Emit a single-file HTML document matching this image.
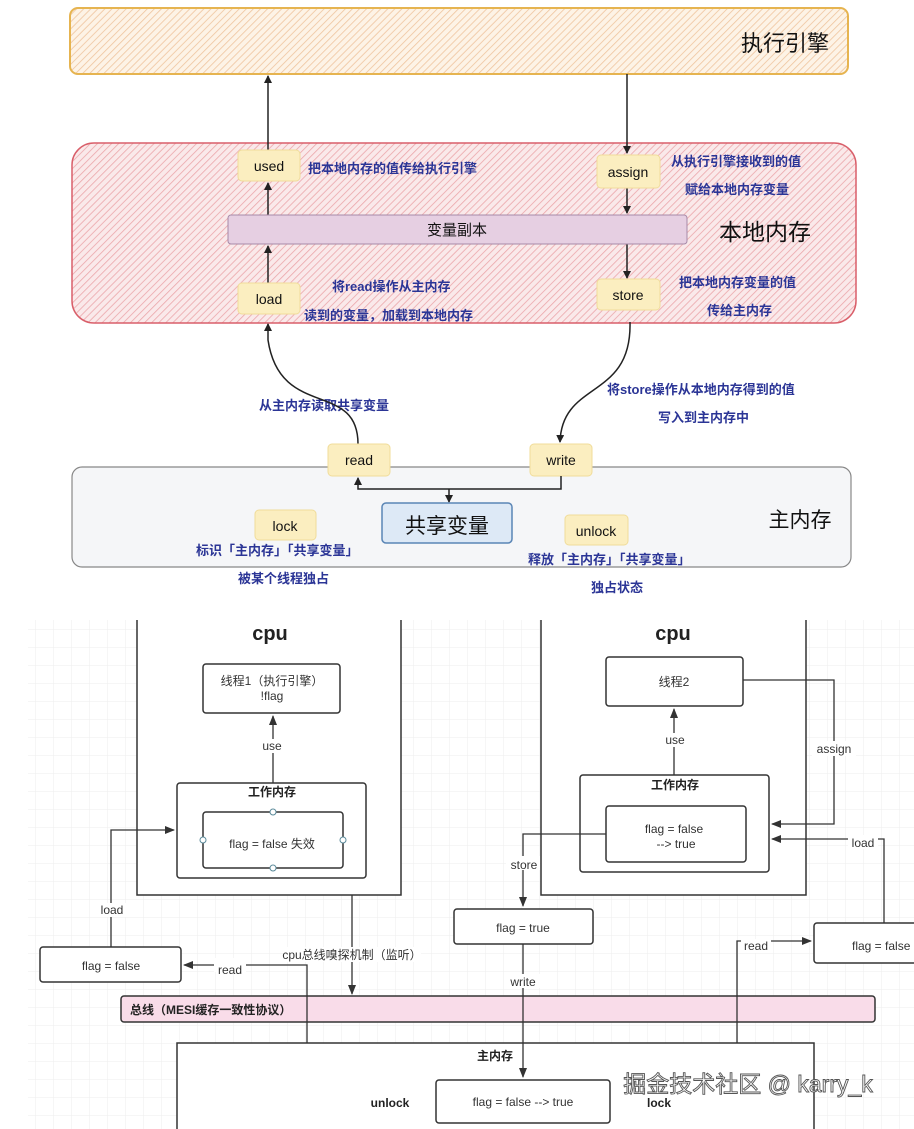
<!DOCTYPE html>
<html><head><meta charset="utf-8"><style>
html,body{margin:0;padding:0;background:#fff}
svg{display:block;font-family:"Liberation Sans","Noto Sans CJK SC",sans-serif}
.b{fill:#2b3596;font-size:13px;font-weight:bold}
</style></head><body>
<svg width="914" height="1129" viewBox="0 0 914 1129" xmlns="http://www.w3.org/2000/svg">
<defs>
<pattern id="h1" width="5" height="5" patternUnits="userSpaceOnUse" patternTransform="rotate(45)"><rect width="5" height="5" fill="#fdf3e6"/><line x1="0" y1="0" x2="0" y2="5" stroke="#efc49e" stroke-width="1.6"/></pattern>
<pattern id="h2" width="5" height="5" patternUnits="userSpaceOnUse" patternTransform="rotate(45)"><rect width="5" height="5" fill="#fae9ea"/><line x1="0" y1="0" x2="0" y2="5" stroke="#eba6aa" stroke-width="1.6"/></pattern>
<pattern id="g" width="18" height="18" patternUnits="userSpaceOnUse"><rect width="18" height="18" fill="#fff"/><path d="M18 0V18H0" fill="none" stroke="#eeeeee" stroke-width="1"/></pattern>
<marker id="a" markerWidth="8" markerHeight="8" refX="7" refY="4" orient="auto" markerUnits="userSpaceOnUse"><path d="M0,0L8,4L0,8z" fill="#222"/></marker>
<marker id="s" markerWidth="10" markerHeight="10" refX="9" refY="5" orient="auto" markerUnits="userSpaceOnUse"><path d="M0,1L10,5L0,9z" fill="#333"/></marker>
</defs>
<rect x="70" y="8" width="778" height="66" rx="8" fill="url(#h1)" stroke="#e6b450" stroke-width="2"/>
<text x="785" y="51" font-size="22" text-anchor="middle" fill="#111">执行引擎</text>
<rect x="72" y="143" width="784" height="180" rx="22" fill="url(#h2)" stroke="#d95f6a" stroke-width="1.5"/>
<line x1="268" y1="283" x2="268" y2="246" stroke="#222" stroke-width="1.5" marker-end="url(#a)"/>
<line x1="268" y1="215" x2="268" y2="183" stroke="#222" stroke-width="1.5" marker-end="url(#a)"/>
<line x1="268" y1="150" x2="268" y2="76" stroke="#222" stroke-width="1.5" marker-end="url(#a)"/>
<line x1="627" y1="74" x2="627" y2="153" stroke="#222" stroke-width="1.5" marker-end="url(#a)"/>
<line x1="627" y1="188" x2="627" y2="213" stroke="#222" stroke-width="1.5" marker-end="url(#a)"/>
<line x1="627" y1="244" x2="627" y2="278" stroke="#222" stroke-width="1.5" marker-end="url(#a)"/>
<rect x="228" y="215" width="459" height="29" rx="3" fill="#e6cfe2" stroke="#a78aa8"/>
<text x="457" y="235" font-size="15" text-anchor="middle" fill="#111">变量副本</text>
<text x="765" y="240" font-size="23" text-anchor="middle" fill="#111">本地内存</text>
<g fill="#fbeec0" stroke="#f0dc9a"><rect x="238" y="150" width="62" height="31" rx="4"/><rect x="597" y="155" width="63" height="33" rx="4"/><rect x="238" y="283" width="62" height="31" rx="4"/><rect x="597" y="279" width="63" height="31" rx="4"/><rect x="255" y="510" width="61" height="30" rx="4"/><rect x="565" y="515" width="63" height="30" rx="4"/></g>
<g font-size="14" text-anchor="middle" fill="#111"><text x="269" y="171">used</text><text x="628" y="177">assign</text><text x="269" y="304">load</text><text x="628" y="300">store</text></g>
<text class="b" x="308" y="173">把本地内存的值传给执行引擎</text>
<text class="b" x="671" y="166">从执行引擎接收到的值</text>
<text class="b" x="685" y="194">赋给本地内存变量</text>
<text class="b" x="332" y="291">将read操作从主内存</text>
<text class="b" x="304" y="320">读到的变量，加载到本地内存</text>
<text class="b" x="679" y="287">把本地内存变量的值</text>
<text class="b" x="707" y="315">传给主内存</text>
<text class="b" x="259" y="410">从主内存读取共享变量</text>
<text class="b" x="607" y="394">将store操作从本地内存得到的值</text>
<text class="b" x="658" y="422">写入到主内存中</text>
<path d="M358 444 C358 380 280 420 268 340 L268 324" fill="none" stroke="#222" stroke-width="1.5" marker-end="url(#a)"/>
<path d="M630 322 C632 400 562 380 560 442" fill="none" stroke="#222" stroke-width="1.5" marker-end="url(#a)"/>
<rect x="72" y="467" width="779" height="100" rx="10" fill="#f5f6f8" stroke="#888" stroke-width="1.2"/>
<g fill="#fbeec0" stroke="#f0dc9a"><rect x="255" y="510" width="61" height="30" rx="4"/><rect x="565" y="515" width="63" height="30" rx="4"/><rect x="328" y="444" width="62" height="32" rx="4"/><rect x="530" y="444" width="62" height="32" rx="4"/></g>
<g font-size="14" text-anchor="middle" fill="#111"><text x="359" y="465">read</text><text x="561" y="465">write</text><text x="285" y="531">lock</text><text x="596" y="536">unlock</text></g>
<path d="M561 476 V489 H358 V478" fill="none" stroke="#222" stroke-width="1.5" marker-end="url(#a)"/>
<line x1="449" y1="489" x2="449" y2="502" stroke="#222" stroke-width="1.5" marker-end="url(#a)"/>
<rect x="382" y="503" width="130" height="40" rx="4" fill="#dde9f6" stroke="#5a85b5" stroke-width="1.5"/>
<text x="447" y="533" font-size="21" text-anchor="middle" fill="#111">共享变量</text>
<text x="800" y="527" font-size="21" text-anchor="middle" fill="#111">主内存</text>
<text class="b" x="196" y="555">标识「主内存」「共享变量」</text>
<text class="b" x="238" y="583">被某个线程独占</text>
<text class="b" x="528" y="564">释放「主内存」「共享变量」</text>
<text class="b" x="591" y="592">独占状态</text>
<rect x="28" y="620" width="886" height="509" fill="url(#g)"/>
<g fill="none" stroke="#333" stroke-width="1.5">
<path d="M137 620 V895 H401 V620" fill="#fff"/>
<path d="M541 620 V895 H806 V620" fill="#fff"/>
<rect x="203" y="664" width="137" height="49" rx="3" fill="#fff"/>
<rect x="177" y="783" width="189" height="95" rx="3" fill="#fff"/>
<rect x="203" y="812" width="140" height="56" rx="3" fill="#fff"/>
<rect x="606" y="657" width="137" height="49" rx="3" fill="#fff"/>
<rect x="580" y="775" width="189" height="97" rx="3" fill="#fff"/>
<rect x="606" y="806" width="140" height="56" rx="3" fill="#fff"/>
<rect x="40" y="947" width="141" height="35" rx="3" fill="#fff"/>
<rect x="454" y="909" width="139" height="35" rx="3" fill="#fff"/>
<rect x="814" y="923" width="110" height="40" rx="3" fill="#fff"/>
<rect x="121" y="996" width="754" height="26" rx="3" fill="#f9dce9"/>
<path d="M177 1129 V1043 H814 V1129" fill="#fff"/>
<rect x="436" y="1080" width="174" height="43" rx="3" fill="#fff"/>
</g>
<g fill="#fff" stroke="#5a8a9a"><circle cx="273" cy="812" r="3"/><circle cx="273" cy="868" r="3"/><circle cx="203" cy="840" r="3"/><circle cx="343" cy="840" r="3"/></g>
<g fill="none" stroke="#333" stroke-width="1.3">
<line x1="273" y1="783" x2="273" y2="716" marker-end="url(#s)"/>
<line x1="674" y1="775" x2="674" y2="709" marker-end="url(#s)"/>
<path d="M111 947 V830 H174" marker-end="url(#s)"/>
<path d="M307 1043 V965 H184" marker-end="url(#s)"/>
<line x1="352" y1="895" x2="352" y2="994" marker-end="url(#s)"/>
<path d="M743 680 H834 V824 H772" marker-end="url(#s)"/>
<path d="M884 923 V839 H772" marker-end="url(#s)"/>
<path d="M606 834 H523 V906" marker-end="url(#s)"/>
<line x1="523" y1="944" x2="523" y2="1077" marker-end="url(#s)"/>
<path d="M737 1043 V941 H811" marker-end="url(#s)"/>
</g>
<g font-size="12" fill="#333" text-anchor="middle">
<rect x="258" y="739" width="30" height="14" fill="#fff"/><text x="272" y="750">use</text>
<rect x="660" y="733" width="30" height="14" fill="#fff"/><text x="675" y="744">use</text>
<rect x="95" y="903" width="32" height="14" fill="#fff"/><text x="112" y="914">load</text>
<rect x="214" y="958" width="32" height="14" fill="#fff"/><text x="230" y="974">read</text>
<rect x="283" y="947" width="138" height="15" fill="#fff"/><text x="352" y="959">cpu总线嗅探机制（监听）</text>
<rect x="812" y="741" width="44" height="15" fill="#fff"/><text x="834" y="753">assign</text>
<rect x="848" y="835" width="30" height="14" fill="#fff"/><text x="863" y="847">load</text>
<rect x="506" y="856" width="34" height="14" fill="#fff"/><text x="524" y="869">store</text>
<rect x="506" y="974" width="34" height="14" fill="#fff"/><text x="523" y="986">write</text>
<rect x="741" y="939" width="30" height="14" fill="#fff"/><text x="756" y="950">read</text>
<text x="272" y="685">线程1（执行引擎）</text><text x="272" y="700">!flag</text>
<text x="272" y="848">flag = false 失效</text>
<text x="674" y="686">线程2</text>
<text x="674" y="833">flag = false</text><text x="676" y="848">--&gt; true</text>
<text x="111" y="970">flag = false</text>
<text x="523" y="932">flag = true</text>
<text x="852" y="950" text-anchor="start">flag = false</text>
<text x="523" y="1106">flag = false  --&gt; true</text>
</g>
<g font-size="12" font-weight="bold" fill="#222">
<text x="272" y="796" text-anchor="middle">工作内存</text>
<text x="675" y="789" text-anchor="middle">工作内存</text>
<text x="130" y="1014">总线（MESI缓存一致性协议）</text>
<text x="495" y="1060" text-anchor="middle">主内存</text>
<text x="390" y="1107" text-anchor="middle">unlock</text>
<text x="659" y="1107" text-anchor="middle">lock</text>
</g>
<g font-size="20" font-weight="bold" fill="#222" text-anchor="middle"><text x="270" y="640">cpu</text><text x="673" y="640">cpu</text></g>
<text x="748" y="1092" font-size="23" text-anchor="middle" fill="#fff" stroke="#555" stroke-width="0.9">掘金技术社区 @ karry_k</text>
</svg>
</body></html>
